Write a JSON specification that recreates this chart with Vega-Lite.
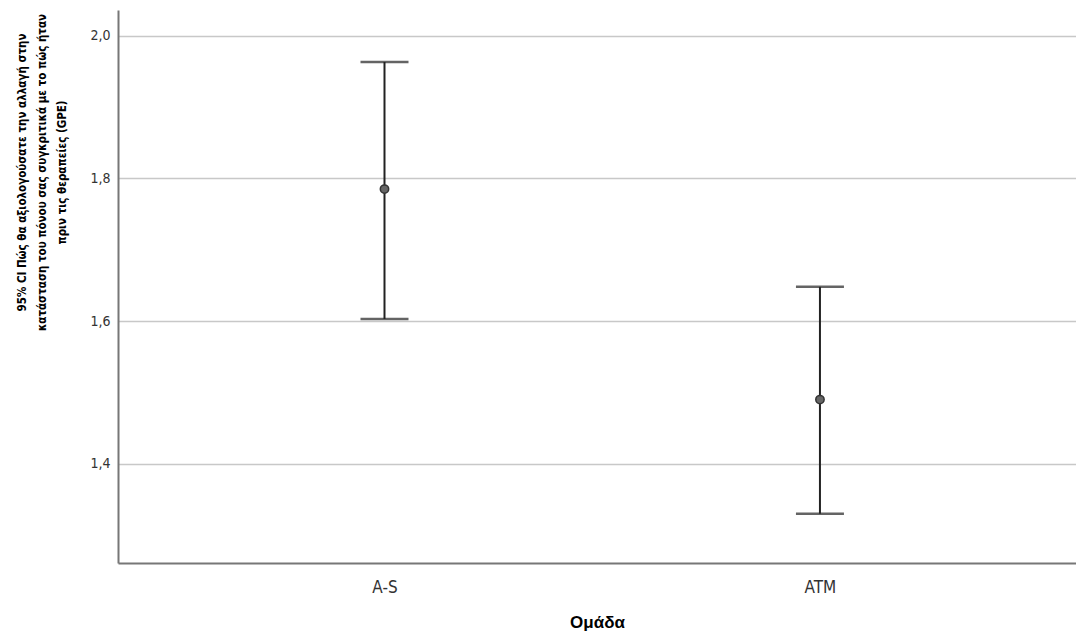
{
  "$schema": "https://vega.github.io/schema/vega-lite/v6.json",
  "width": 958,
  "height": 553,
  "autosize": {"type": "none"},
  "padding": {"left": 118, "top": 10, "right": 0, "bottom": 73},
  "background": "white",
  "config": {
    "view": {"stroke": null},
    "font": "Liberation Sans"
  },
  "data": {
    "values": [
      {"group": "A-S", "mean": 1.785, "lower": 1.603, "upper": 1.963},
      {"group": "ATM", "mean": 1.490, "lower": 1.330, "upper": 1.648}
    ]
  },
  "encoding": {
    "x": {
      "field": "group",
      "type": "nominal",
      "sort": null,
      "scale": {"type": "point", "padding": 0.6, "align": 0.51},
      "axis": {
        "title": "Ομάδα",
        "titleFont": "Liberation Sans",
        "titleFontSize": 17,
        "titleFontWeight": "bold",
        "titleColor": "#000000",
        "titlePadding": 19,
        "labelAngle": 0,
        "labelFont": "DejaVu Sans Condensed, Liberation Sans",
        "labelFontSize": 17,
        "labelColor": "#333333",
        "labelPadding": 16,
        "ticks": false,
        "domainColor": "#777777",
        "domainWidth": 2,
        "grid": false
      }
    }
  },
  "layer": [
    {
      "mark": {"type": "rule", "color": "#222222", "strokeWidth": 2},
      "encoding": {
        "y": {
          "field": "lower",
          "type": "quantitative",
          "scale": {"domain": [1.261, 2.036], "nice": false, "zero": false},
          "axis": {
            "title": ["95% CI Πώς θα αξιολογούσατε την αλλαγή στην", "κατάσταση του πόνου σας συγκριτικά με το πώς ήταν", "πριν τις θεραπείες (GPE)"],
            "titleFont": "DejaVu Sans Condensed, Liberation Sans",
            "titleFontSize": 11.5,
            "titleFontWeight": "bold",
            "titleColor": "#000000",
            "titleAngle": 270,
            "titleAlign": "center",
            "titleBaseline": "top",
            "titleLineHeight": 20,
            "titleX": -102,
            "titleY": 162,
            "values": [1.4, 1.6, 1.8, 2.0],
            "labelExpr": "replace(format(datum.value, '.1f'), '.', ',')",
            "labelFont": "DejaVu Sans Condensed, Liberation Sans",
            "labelFontSize": 14,
            "labelColor": "#333333",
            "labelPadding": 8,
            "ticks": false,
            "domainColor": "#777777",
            "domainWidth": 2,
            "grid": true,
            "gridColor": "#c8c8c8",
            "gridWidth": 1.5
          }
        },
        "y2": {"field": "upper"}
      }
    },
    {
      "mark": {"type": "tick", "color": "#222222", "thickness": 2.5, "size": 48},
      "encoding": {"y": {"field": "lower", "type": "quantitative"}}
    },
    {
      "mark": {"type": "tick", "color": "#222222", "thickness": 2.5, "size": 48},
      "encoding": {"y": {"field": "upper", "type": "quantitative"}}
    },
    {
      "mark": {"type": "point", "filled": true, "fill": "#666666", "stroke": "#333333", "strokeWidth": 1.5, "size": 70, "opacity": 1},
      "encoding": {"y": {"field": "mean", "type": "quantitative"}}
    }
  ]
}
